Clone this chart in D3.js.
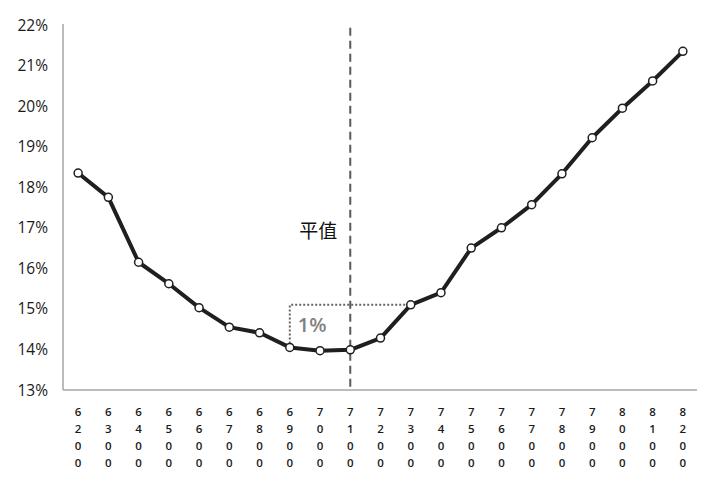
<!DOCTYPE html>
<html>
<head>
<meta charset="utf-8">
<script src="https://cdn.jsdelivr.net/npm/d3@7"></script>
<style>
  body { margin: 0; background: #fff; }
  text { font-family: "Open Sans", "Noto Sans", "Noto Sans CJK SC", sans-serif; }
</style>
</head>
<body>
<div id="grafico"></div>
<script>
const strikes = ['6200', '6300', '6400', '6500', '6600', '6700', '6800', '6900', '7000', '7100', '7200',
                 '7300', '7400', '7500', '7600', '7700', '7800', '7900', '8000', '8100', '8200']
const vols = [18.35, 17.75, 16.15, 15.62, 15.03, 14.55, 14.41, 14.05, 13.97, 13.99, 14.28,
              15.1, 15.4, 16.5, 17.0, 17.57, 18.33, 19.22, 19.95, 20.62, 21.35]
const yTicks = [13, 14, 15, 16, 17, 18, 19, 20, 21, 22]
const atmStrike = '7100'
const spreadFrom = '6900'
const spreadTo = '7300'

const width = 705
const height = 478
const margin = { top: 25, right: 7, bottom: 88, left: 63 }

const svg = d3.select('#grafico')
              .append('svg')
              .attr('width', width)
              .attr('height', height)

const x = d3.scaleBand()
            .domain(strikes)
            .range([margin.left, width - margin.right])

const y = d3.scaleLinear()
            .domain([13, 22])
            .range([height - margin.bottom, margin.top])

const cx = d => x(d) + x.bandwidth() / 2

// axes
svg.append('line')
   .attr('x1', margin.left).attr('x2', margin.left)
   .attr('y1', y(22) - 1).attr('y2', y(13))
   .attr('stroke', '#a6a6a6').attr('stroke-width', 1.5)

svg.append('line')
   .attr('x1', margin.left).attr('x2', width - margin.right - 1)
   .attr('y1', y(13)).attr('y2', y(13))
   .attr('stroke', '#a6a6a6').attr('stroke-width', 1.5)

svg.append('g')
   .selectAll('text')
   .data(yTicks)
   .enter()
   .append('text')
   .attr('x', 48)
   .attr('y', d => y(d))
   .attr('dy', '0.36em')
   .attr('text-anchor', 'end')
   .style('font-size', '15.5px')
   .style('fill', '#1a1a1a')
   .text(d => d + '%')

// vertical strike labels, one digit per row
const xl = svg.append('g')
              .selectAll('text')
              .data(strikes)
              .enter()
              .append('text')
              .attr('text-anchor', 'middle')
              .style('font-size', '11.5px')
              .style('font-weight', 600)
              .style('fill', '#1a1a1a')

xl.selectAll('tspan')
  .data(d => d.split('').map(c => ({ c, s: d })))
  .enter()
  .append('tspan')
  .attr('x', d => cx(d.s))
  .attr('y', (d, i) => 415.5 + i * 17)
  .text(d => d.c)

// at-the-money dashed line
svg.append('line')
   .attr('x1', cx(atmStrike)).attr('x2', cx(atmStrike))
   .attr('y1', y(21.93)).attr('y2', y(13))
   .attr('stroke', '#595959').attr('stroke-width', 2)
   .attr('stroke-dasharray', '8,5')

svg.append('text')
   .attr('x', cx(atmStrike) - 13)
   .attr('y', y(16.91))
   .attr('dy', '0.36em')
   .attr('text-anchor', 'end')
   .style('font-size', '19px')
   .style('fill', '#111')
   .text('平值')

// 1% spread marker
const v1 = vols[strikes.indexOf(spreadFrom)]
const v2 = vols[strikes.indexOf(spreadTo)]
svg.append('path')
   .attr('d', `M${cx(spreadFrom)},${y(v1)}V${y(v2)}H${cx(spreadTo)}`)
   .attr('fill', 'none')
   .attr('stroke', '#666')
   .attr('stroke-width', 2)
   .attr('stroke-dasharray', '2,2')

svg.append('text')
   .attr('x', cx(spreadFrom) + 8)
   .attr('y', y(14.6))
   .attr('dy', '0.36em')
   .style('font-size', '20px')
   .style('font-weight', 600)
   .style('fill', '#808080')
   .text('1%')

// smile curve
const line = d3.line()
               .x((d, i) => cx(strikes[i]))
               .y(d => y(d))

svg.append('path')
   .datum(vols)
   .attr('d', line)
   .attr('fill', 'none')
   .attr('stroke', '#1f1f1f')
   .attr('stroke-width', 4)
   .attr('stroke-linejoin', 'round')

svg.append('g')
   .selectAll('circle')
   .data(vols)
   .enter()
   .append('circle')
   .attr('cx', (d, i) => cx(strikes[i]))
   .attr('cy', d => y(d))
   .attr('r', 4)
   .attr('fill', '#fff')
   .attr('stroke', '#1f1f1f')
   .attr('stroke-width', 1.5)
</script>
</body>
</html>
